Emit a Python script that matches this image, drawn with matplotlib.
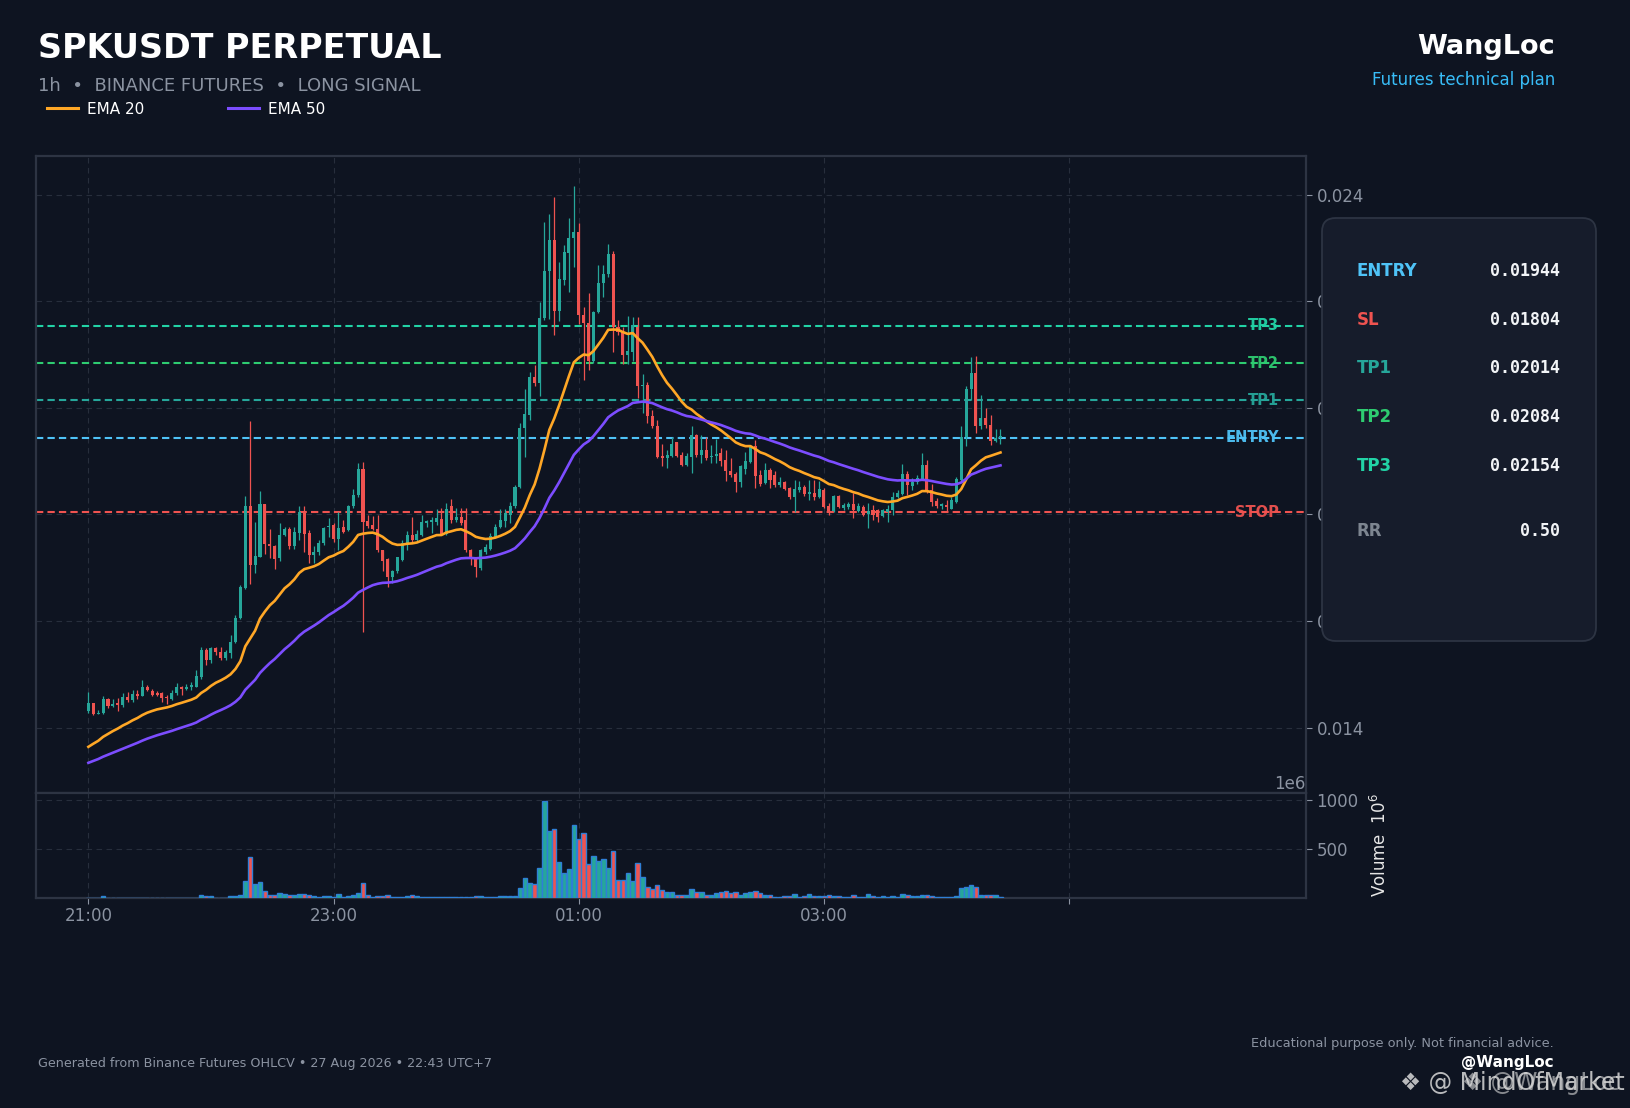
import numpy as np
import matplotlib
matplotlib.use("Agg")
import matplotlib.pyplot as plt
from matplotlib.patches import FancyBboxPatch
from matplotlib.lines import Line2D
from matplotlib.ticker import ScalarFormatter, FormatStrFormatter
import matplotlib.transforms as mtransforms

# ---------------- data ----------------
opens = [0.01432,0.01446,0.01425,0.01427,0.01454,0.01440,0.01445,0.01443,0.01457,0.01451,
         0.01464,0.01460,0.01476,0.01469,0.01465,0.01465,0.01458,0.01454,0.01465,0.01477,
         0.01472,0.01477,0.01477,0.01495,0.01546,0.01526,0.01550,0.01542,0.01530,0.01540,
         0.01560,0.01605,0.01662,0.01816,0.01706,0.01721,0.01820,0.01745,0.01741,0.01719,
         0.01762,0.01772,0.01740,0.01766,0.01805,0.01766,0.01724,0.01729,0.01746,0.01776,
         0.01780,0.01753,0.01776,0.01770,0.01815,0.01836,0.01885,0.01787,0.01780,0.01772,
         0.01733,0.01716,0.01682,0.01693,0.01715,0.01746,0.01762,0.01752,0.01762,0.01784,
         0.01785,0.01786,0.01792,0.01763,0.01815,0.01790,0.01795,0.01790,0.01733,0.01718,
         0.01699,0.01730,0.01736,0.01758,0.01777,0.01788,0.01799,0.01815,0.01851,0.01962,
         0.01987,0.02058,0.02047,0.02168,0.02256,0.02315,0.02182,0.02240,0.02291,0.02318,
         0.02329,0.02175,0.02159,0.02087,0.02180,0.02234,0.02251,0.02289,0.02152,0.02143,
         0.02100,0.02105,0.02152,0.02040,0.02043,0.01985,0.01966,0.01910,0.01906,0.01910,
         0.01935,0.01911,0.01893,0.01908,0.01949,0.01912,0.01921,0.01907,0.01909,0.01916,
         0.01902,0.01882,0.01876,0.01860,0.01886,0.01899,0.01929,0.01874,0.01859,0.01884,
         0.01874,0.01856,0.01860,0.01849,0.01832,0.01846,0.01851,0.01839,0.01841,0.01832,
         0.01846,0.01816,0.01806,0.01835,0.01812,0.01814,0.01820,0.01807,0.01813,0.01801,
         0.01808,0.01808,0.01797,0.01805,0.01808,0.01832,0.01838,0.01875,0.01853,0.01860,
         0.01866,0.01893,0.01846,0.01825,0.01815,0.01818,0.01811,0.01824,0.01865,0.01945,
         0.02035,0.02066,0.01966,0.01980,0.01968,0.01938,0.01944]
highs = [0.01466,0.01447,0.01433,0.01460,0.01455,0.01453,0.01455,0.01465,0.01467,0.01470,
         0.01471,0.01490,0.01480,0.01472,0.01468,0.01466,0.01461,0.01470,0.01483,0.01478,
         0.01482,0.01485,0.01508,0.01552,0.01549,0.01551,0.01551,0.01552,0.01546,0.01574,
         0.01612,0.01668,0.01835,0.01975,0.01786,0.01844,0.01820,0.01772,0.01742,0.01784,
         0.01777,0.01776,0.01777,0.01815,0.01815,0.01771,0.01740,0.01752,0.01777,0.01794,
         0.01783,0.01805,0.01790,0.01817,0.01847,0.01896,0.01899,0.01799,0.01797,0.01799,
         0.01734,0.01718,0.01696,0.01721,0.01752,0.01768,0.01796,0.01771,0.01799,0.01790,
         0.01796,0.01810,0.01812,0.01821,0.01829,0.01812,0.01812,0.01812,0.01736,0.01720,
         0.01736,0.01745,0.01765,0.01782,0.01811,0.01811,0.01824,0.01855,0.01971,0.02035,
         0.02068,0.02080,0.02199,0.02349,0.02364,0.02395,0.02274,0.02305,0.02356,0.02416,
         0.02347,0.02190,0.02215,0.02182,0.02268,0.02267,0.02307,0.02294,0.02165,0.02152,
         0.02172,0.02171,0.02170,0.02063,0.02049,0.01996,0.01977,0.01933,0.01921,0.01946,
         0.01936,0.01918,0.01916,0.01965,0.01950,0.01949,0.01946,0.01931,0.01941,0.01924,
         0.01921,0.01906,0.01879,0.01893,0.01918,0.01931,0.01939,0.01884,0.01896,0.01887,
         0.01881,0.01870,0.01862,0.01851,0.01864,0.01862,0.01856,0.01865,0.01865,0.01862,
         0.01849,0.01821,0.01837,0.01837,0.01822,0.01824,0.01840,0.01821,0.01818,0.01821,
         0.01818,0.01811,0.01811,0.01818,0.01843,0.01846,0.01895,0.01881,0.01868,0.01874,
         0.01915,0.01902,0.01858,0.01830,0.01821,0.01827,0.01833,0.01871,0.01966,0.02041,
         0.02095,0.02097,0.02024,0.01999,0.01987,0.01961,0.01961]
lows = [0.01427,0.01424,0.01425,0.01425,0.01437,0.01439,0.01431,0.01439,0.01449,0.01449,
        0.01454,0.01459,0.01468,0.01460,0.01459,0.01448,0.01445,0.01452,0.01462,0.01461,
        0.01471,0.01470,0.01476,0.01492,0.01517,0.01521,0.01537,0.01527,0.01526,0.01530,
        0.01559,0.01604,0.01661,0.01669,0.01690,0.01721,0.01725,0.01719,0.01697,0.01712,
        0.01760,0.01735,0.01736,0.01752,0.01730,0.01708,0.01708,0.01724,0.01743,0.01758,
        0.01749,0.01733,0.01765,0.01768,0.01812,0.01833,0.01580,0.01774,0.01770,0.01730,
        0.01693,0.01664,0.01671,0.01690,0.01712,0.01733,0.01749,0.01749,0.01760,0.01776,
        0.01765,0.01780,0.01761,0.01761,0.01784,0.01786,0.01780,0.01730,0.01705,0.01683,
        0.01695,0.01725,0.01733,0.01755,0.01774,0.01777,0.01784,0.01812,0.01849,0.01908,
        0.01977,0.02040,0.02022,0.02165,0.02166,0.02137,0.02162,0.02231,0.02218,0.02265,
        0.02158,0.02052,0.02071,0.02085,0.02177,0.02207,0.02246,0.02105,0.02137,0.02083,
        0.02083,0.02087,0.02018,0.01990,0.01971,0.01962,0.01906,0.01890,0.01887,0.01908,
        0.01907,0.01891,0.01891,0.01877,0.01908,0.01896,0.01902,0.01896,0.01896,0.01890,
        0.01862,0.01871,0.01843,0.01851,0.01876,0.01896,0.01849,0.01854,0.01857,0.01849,
        0.01852,0.01851,0.01845,0.01829,0.01805,0.01843,0.01834,0.01827,0.01827,0.01831,
        0.01812,0.01799,0.01804,0.01812,0.01809,0.01810,0.01793,0.01805,0.01797,0.01774,
        0.01790,0.01786,0.01796,0.01786,0.01799,0.01830,0.01836,0.01836,0.01845,0.01857,
        0.01865,0.01840,0.01815,0.01812,0.01810,0.01807,0.01810,0.01821,0.01862,0.01928,
        0.02015,0.01952,0.01961,0.01963,0.01930,0.01936,0.01933]
closes = [0.01446,0.01425,0.01427,0.01454,0.01440,0.01445,0.01443,0.01457,0.01451,0.01464,
          0.01460,0.01476,0.01470,0.01462,0.01462,0.01455,0.01455,0.01465,0.01476,0.01472,
          0.01477,0.01480,0.01496,0.01546,0.01526,0.01549,0.01541,0.01530,0.01542,0.01561,
          0.01606,0.01664,0.01816,0.01706,0.01722,0.01820,0.01744,0.01740,0.01717,0.01762,
          0.01772,0.01740,0.01767,0.01805,0.01764,0.01724,0.01730,0.01747,0.01775,0.01778,
          0.01753,0.01774,0.01767,0.01815,0.01836,0.01885,0.01786,0.01778,0.01772,0.01733,
          0.01713,0.01683,0.01693,0.01720,0.01746,0.01762,0.01752,0.01763,0.01785,0.01788,
          0.01790,0.01793,0.01763,0.01811,0.01790,0.01796,0.01783,0.01733,0.01721,0.01702,
          0.01733,0.01738,0.01760,0.01776,0.01790,0.01802,0.01816,0.01852,0.01962,0.01988,
          0.02058,0.02047,0.02168,0.02257,0.02315,0.02182,0.02242,0.02293,0.02319,0.02329,
          0.02174,0.02159,0.02087,0.02180,0.02235,0.02251,0.02289,0.02152,0.02143,0.02100,
          0.02106,0.02155,0.02040,0.02043,0.01984,0.01965,0.01908,0.01906,0.01911,0.01933,
          0.01910,0.01893,0.01909,0.01949,0.01912,0.01921,0.01906,0.01910,0.01914,0.01901,
          0.01882,0.01874,0.01860,0.01890,0.01901,0.01929,0.01872,0.01857,0.01884,0.01865,
          0.01856,0.01860,0.01847,0.01832,0.01847,0.01851,0.01839,0.01840,0.01832,0.01847,
          0.01814,0.01804,0.01835,0.01814,0.01818,0.01820,0.01809,0.01816,0.01799,0.01807,
          0.01799,0.01796,0.01808,0.01811,0.01833,0.01841,0.01875,0.01855,0.01861,0.01868,
          0.01893,0.01843,0.01824,0.01815,0.01819,0.01813,0.01827,0.01866,0.01946,0.02035,
          0.02066,0.01966,0.01980,0.01968,0.01937,0.01944,0.01945]
volumes_m = [5,5,3,20,4,4,3,4,5,3,4,4,3,5,4,4,3,4,5,4,
             3,4,5,27,20,20,5,5,5,20,20,27,173,415,139,160,68,27,27,48,
             37,27,27,37,37,27,20,10,20,20,14,37,14,20,27,48,150,27,10,20,
             20,27,7,7,7,20,27,20,7,7,7,7,7,7,7,7,7,7,7,20,
             20,7,7,7,20,20,20,20,99,200,150,139,303,989,683,700,364,252,292,741,
             598,660,343,425,374,394,303,476,180,180,252,173,354,211,116,88,129,78,58,58,
             34,34,34,92,58,58,34,34,48,58,68,48,58,34,48,58,68,48,34,34,
             14,7,17,17,37,10,17,37,17,17,17,27,17,17,7,7,27,7,7,37,
             17,7,17,7,17,7,37,27,17,17,27,27,17,7,7,7,7,17,99,116,
             129,116,34,27,27,27,7]

ema20_start = 0.01364
ema50_start = 0.01334

level_names = ["TP3", "TP2", "TP1", "ENTRY", "STOP"]
level_prices = [0.02154, 0.02084, 0.02014, 0.01944, 0.01804]
level_colors = ["#22d3a6", "#2ecc71", "#26a69a", "#4fc3f7", "#ef5350"]

panel_labels = ["ENTRY", "SL", "TP1", "TP2", "TP3", "RR"]
panel_values = ["0.01944", "0.01804", "0.02014", "0.02084", "0.02154", "0.50"]
panel_colors = ["#4fc3f7", "#ef5350", "#26a69a", "#2ecc71", "#22d3a6", "#7d8590"]

xtick_pos = [0, 50, 100, 150, 200]
xtick_labels = ["21:00", "23:00", "01:00", "03:00", ""]
price_ticks = [0.014, 0.016, 0.018, 0.020, 0.022, 0.024]

# ---------------- style ----------------
BG = "#0e1421"
GRID = "#2a3140"
SPINE = "#2d3443"
TXT = "#8b93a1"
UP = "#26a69a"
DOWN = "#ef5350"

o = np.array(opens); h = np.array(highs); l = np.array(lows); c = np.array(closes)
v = np.array(volumes_m, dtype=float) * 1e6
x = np.arange(len(c))
up = c >= o


def ema(vals, span, start):
    a = 2.0 / (span + 1)
    out = [start]
    for val in vals[1:]:
        out.append(a * val + (1 - a) * out[-1])
    return np.array(out)


e20 = ema(c, 20, ema20_start)
e50 = ema(c, 50, ema50_start)

W, H = 1631, 1108
fig = plt.figure(figsize=(W / 100, H / 100), dpi=100, facecolor=BG)

L, R = 36.4, 1306
ax = fig.add_axes([L / W, 1 - 793 / H, (R - L) / W, (793 - 156) / H])
axv = fig.add_axes([L / W, 1 - 898 / H, (R - L) / W, (898 - 793) / H], sharex=ax)

for a in (ax, axv):
    a.set_facecolor(BG)
    for s in a.spines.values():
        s.set_color(SPINE)
        s.set_linewidth(1.6)
    a.grid(True, color=GRID, linestyle=(0, (5, 4)), linewidth=0.8, alpha=0.9)
    a.set_axisbelow(True)
    a.yaxis.tick_right()
    a.tick_params(axis='both', colors=TXT, labelsize=12, length=4, width=0.8)

# candles
body_bottom = np.minimum(o, c)
body_h = np.maximum(np.abs(c - o), 0.000025)
cols = np.where(up, UP, DOWN)
ax.vlines(x, l, h, colors=cols, linewidth=0.9, zorder=3)
ax.bar(x, body_h, bottom=body_bottom, width=0.62, color=cols, linewidth=0, zorder=4)

ax.plot(x, e20, color="#ffa726", lw=1.9, zorder=5, label="EMA 20")
ax.plot(x, e50, color="#7c4dff", lw=1.9, zorder=5, label="EMA 50")

trans = mtransforms.blended_transform_factory(ax.transAxes, ax.transData)
for name, p, col in zip(level_names, level_prices, level_colors):
    ax.axhline(p, color=col, linestyle=(0, (3.5, 2)), linewidth=1.5, zorder=2)
    ax.text(0.979, p, name, transform=trans, ha='right', va='center', color=col,
            fontsize=10.5, fontweight='bold', zorder=6, alpha=0.95)

ax.set_xlim(-10.6, 248.3)
ax.set_ylim(0.012774, 0.024724)
ax.set_yticks(price_ticks)
ax.yaxis.set_major_formatter(FormatStrFormatter('%.3f'))
ax.tick_params(axis='x', labelbottom=False, length=0)
ax.set_xticks(xtick_pos)

# volume
axv.bar(x, v, width=0.92, color=cols, edgecolor="#2f7fd6", linewidth=1.0, zorder=3)
axv.set_ylim(0, 1.071e9)
axv.set_yticks([5e8, 1e9])
fmt = ScalarFormatter()
fmt.set_powerlimits((6, 6))
axv.yaxis.set_major_formatter(fmt)
axv.yaxis.set_offset_position('right')
axv.yaxis.get_offset_text().set_color(TXT)
axv.yaxis.get_offset_text().set_fontsize(12)
axv.yaxis.set_label_position('right')
axv.set_ylabel("Volume  $10^{6}$", color="#e6e6e6", fontsize=12, labelpad=8)
axv.set_xticks(xtick_pos)
axv.set_xticklabels(xtick_labels)
axv.tick_params(axis='x', pad=2.5)

# header
fig.text(38.5 / W, 1 - 49 / H, "SPKUSDT PERPETUAL", color="white", fontsize=24,
         fontweight='bold', va='center', ha='left')
fig.text(38.5 / W, 1 - 86 / H, "1h  \u2022  BINANCE FUTURES  \u2022  LONG SIGNAL",
         color=TXT, fontsize=13, va='center', ha='left')
fig.text(1555 / W, 1 - 47 / H, "WangLoc", color="white", fontsize=19.5,
         fontweight='bold', va='center', ha='right')
fig.text(1555 / W, 1 - 80 / H, "Futures technical plan", color="#38bdf8",
         fontsize=12, va='center', ha='right')

handles = [Line2D([], [], color="#ffa726", lw=2.2), Line2D([], [], color="#7c4dff", lw=2.2)]
leg = fig.legend(handles, ["EMA 20", "EMA 50"], loc='center left',
                 bbox_to_anchor=(47 / W, 1 - 109 / H), ncol=2, frameon=False,
                 fontsize=11, handlelength=2.0, handletextpad=0.6, columnspacing=5.5,
                 borderpad=0, borderaxespad=0)
for t in leg.get_texts():
    t.set_color("white")

# info panel
px0, px1, py0, py1 = 1322, 1596, 218, 641
axp = fig.add_axes([px0 / W, 1 - py1 / H, (px1 - px0) / W, (py1 - py0) / H])
axp.set_zorder(10)
axp.axis('off')
axp.set_xlim(0, 1); axp.set_ylim(0, 1)
box = FancyBboxPatch((0, 0), 1, 1, boxstyle="round,pad=0,rounding_size=0.05",
                     mutation_aspect=(px1 - px0) / (py1 - py0),
                     facecolor="#161c2b", edgecolor="#2d3443", linewidth=1.3,
                     transform=axp.transAxes, clip_on=False)
axp.add_patch(box)
row_y = [271, 320, 368, 417, 466, 531]
for lab, val, col, yy in zip(panel_labels, panel_values, panel_colors, row_y):
    yf = (py1 - yy) / (py1 - py0)
    axp.text((1357 - px0) / (px1 - px0), yf, lab, color=col, fontsize=12,
             fontweight='bold', va='center', ha='left')
    axp.text((1560 - px0) / (px1 - px0), yf, val, color="#f2f4f7", fontsize=12,
             fontweight='bold', family='DejaVu Sans Mono', va='center', ha='right')

# footer
fig.text(38.5 / W, 1 - 1064 / H,
         "Generated from Binance Futures OHLCV \u2022 27 Aug 2026 \u2022 22:43 UTC+7",
         color=TXT, fontsize=9.2, va='center', ha='left')
fig.text(1554 / W, 1 - 1043 / H, "Educational purpose only. Not financial advice.",
         color=TXT, fontsize=9.3, va='center', ha='right')
fig.text(1554 / W, 1 - 1062 / H, "@WangLoc", color="white", fontsize=11,
         fontweight='bold', va='center', ha='right')
# overlaid watermark
fig.text(1400 / W, 1 - 1083 / H, "\u2756 @ MindOfMarket", color="#d8d8d8", fontsize=17,
         va='center', ha='left', alpha=0.85)
fig.text(1462 / W, 1 - 1083 / H, "\u2756 @WangLoc", color="#d8d8d8", fontsize=17,
         va='center', ha='left', alpha=0.6)

fig.savefig("out.png", dpi=100, facecolor=BG)
